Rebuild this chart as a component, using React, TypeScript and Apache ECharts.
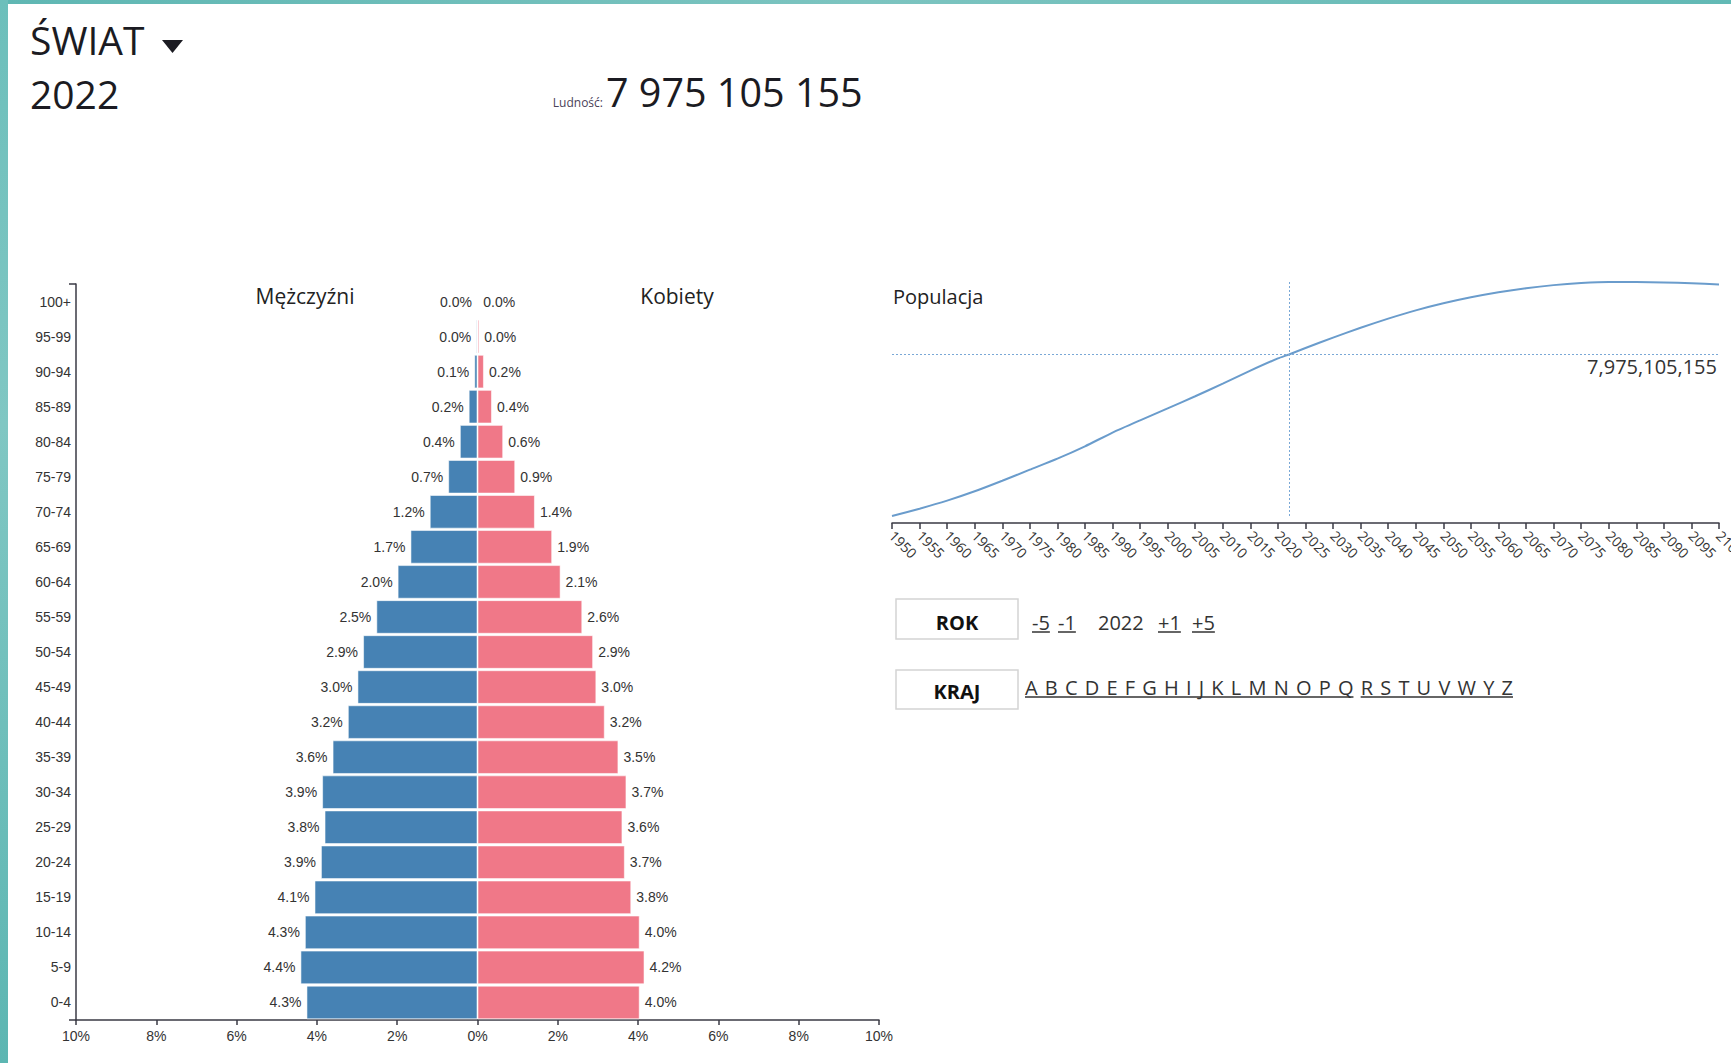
import React, { useEffect, useRef } from "react";
import * as echarts from "echarts";

// ---------- data ----------
const AGE_GROUPS = [
  "0-4", "5-9", "10-14", "15-19", "20-24", "25-29", "30-34", "35-39", "40-44", "45-49",
  "50-54", "55-59", "60-64", "65-69", "70-74", "75-79", "80-84", "85-89", "90-94", "95-99", "100+",
];
const MALE_PCT = [
  4.26, 4.41, 4.3, 4.06, 3.9, 3.81, 3.87, 3.61, 3.23, 2.99,
  2.85, 2.52, 1.99, 1.67, 1.19, 0.73, 0.44, 0.22, 0.08, 0.03, 0.005,
];
const FEMALE_PCT = [
  4.04, 4.16, 4.04, 3.83, 3.67, 3.61, 3.71, 3.51, 3.17, 2.96,
  2.88, 2.61, 2.07, 1.86, 1.43, 0.94, 0.64, 0.36, 0.16, 0.045, 0.01,
];
const PCT_TICKS_MIN = -10;
const PCT_TICKS_MAX = 10;
const PCT_TICK_STEP = 2;

const POP_YEARS = [
  1950, 1955, 1960, 1965, 1970, 1975, 1980, 1985, 1990, 1995, 2000, 2005, 2010, 2015, 2020,
  2022, 2025, 2030, 2035, 2040, 2045, 2050, 2055, 2060, 2065, 2070, 2075, 2080, 2085, 2090,
  2095, 2100,
];
// billions
const POP_VALUES = [
  2.499, 2.746, 3.019, 3.337, 3.695, 4.07, 4.444, 4.862, 5.327, 5.743, 6.149, 6.558, 6.986,
  7.427, 7.841, 7.975105155, 8.192, 8.546, 8.879, 9.188, 9.468, 9.709, 9.913, 10.085, 10.222,
  10.325, 10.394, 10.431, 10.43, 10.415, 10.387, 10.349,
];
const CURRENT_YEAR = 2022;
const CURRENT_POP = 7975105155;

const REGION_NAME = "ŚWIAT";
const LABEL_MEN = "Mężczyźni";
const LABEL_WOMEN = "Kobiety";
const LABEL_POP = "Populacja";
const LABEL_LUDNOSC = "Ludność:";
const YEAR_LINKS = ["-5", "-1", "+1", "+5"];
const LETTERS = ["A", "B", "C", "D", "E", "F", "G", "H", "I", "J", "K", "L", "M", "N", "O", "P", "Q", "R", "S", "T", "U", "V", "W", "Y", "Z"];

// ---------- helpers ----------
const FONT_UI = "Open Sans";
const measureCtx = (() => {
  const c = document.createElement("canvas");
  return c.getContext("2d") as CanvasRenderingContext2D;
})();
function textWidth(t: string, size: number, family = FONT_UI, weight = "normal") {
  measureCtx.font = `${weight} ${size}px "${family}"`;
  return measureCtx.measureText(t).width;
}
function spaced(n: number) {
  return String(n).replace(/\B(?=(\d{3})+(?!\d))/g, " ");
}
function commas(n: number) {
  return String(n).replace(/\B(?=(\d{3})+(?!\d))/g, ",");
}

export default function App() {
  const ref = useRef<HTMLDivElement>(null);

  useEffect(() => {
    if (!ref.current) return;
    const chart = echarts.init(ref.current, undefined, { renderer: "svg" });

    const dark = "#1b1b22";
    const txt = "#333";

    const graphics: any[] = [];
    // teal page frame
    graphics.push({
      type: "rect",
      shape: { x: 0, y: 0, width: 1731, height: 4 },
      style: {
        fill: new echarts.graphic.LinearGradient(0, 0, 1, 0, [
          { offset: 0, color: "#5fb7b3" },
          { offset: 0.5, color: "#7cc4c0" },
          { offset: 1, color: "#62b9b5" },
        ]),
      },
      silent: true,
    });
    graphics.push({
      type: "rect",
      shape: { x: 0, y: 0, width: 8, height: 1063 },
      style: {
        fill: new echarts.graphic.LinearGradient(0, 0, 0, 1, [
          { offset: 0, color: "#6cbfbb" },
          { offset: 0.4, color: "#80c7c3" },
          { offset: 1, color: "#5cb6b2" },
        ]),
      },
      silent: true,
    });

    // header
    graphics.push({
      type: "text", x: 30, y: 39,
      style: { text: REGION_NAME, fontSize: 39, fontFamily: FONT_UI, fill: dark, verticalAlign: "middle" },
    });
    graphics.push({
      type: "polygon",
      shape: { points: [[162, 40], [183, 40], [172.5, 53]] },
      style: { fill: dark },
    });
    graphics.push({
      type: "text", x: 30, y: 93,
      style: { text: String(CURRENT_YEAR), fontSize: 39, fontFamily: FONT_UI, fill: dark, verticalAlign: "middle" },
    });
    graphics.push({
      type: "text", x: 603, y: 102,
      style: { text: LABEL_LUDNOSC, fontSize: 12, fontFamily: FONT_UI, fill: "#4a4258", align: "right", verticalAlign: "middle" },
    });
    graphics.push({
      type: "text", x: 606, y: 92,
      style: { text: spaced(CURRENT_POP), fontSize: 39.5, fontFamily: FONT_UI, fill: dark, verticalAlign: "middle" },
    });

    // panel titles
    graphics.push({
      type: "text", x: 305, y: 296,
      style: { text: LABEL_MEN, fontSize: 21, fontFamily: FONT_UI, fill: "#222", align: "center", verticalAlign: "middle" },
    });
    graphics.push({
      type: "text", x: 677, y: 296,
      style: { text: LABEL_WOMEN, fontSize: 21, fontFamily: FONT_UI, fill: "#222", align: "center", verticalAlign: "middle" },
    });
    graphics.push({
      type: "text", x: 893, y: 296,
      style: { text: LABEL_POP, fontSize: 20, fontFamily: FONT_UI, fill: "#222", verticalAlign: "middle" },
    });

    // ROK / KRAJ boxes
    const boxX = 896, boxW = 122;
    [[599, 40, "ROK", 622], [670, 39, "KRAJ", 691]].forEach(([y, h, label, ty]: any) => {
      graphics.push({
        type: "rect",
        shape: { x: boxX, y, width: boxW, height: h },
        style: { fill: "#fff", stroke: "#d4d4d4", lineWidth: 1.5 },
      });
      graphics.push({
        type: "text", x: boxX + boxW / 2, y: ty,
        style: { text: label, fontSize: 20, fontWeight: "bold", fontFamily: FONT_UI, fill: "#111", align: "center", verticalAlign: "middle" },
      });
    });

    // year links
    const linkFont = 20;
    const linkX: Record<string, number> = { "-5": 1032, "-1": 1058, "+1": 1158, "+5": 1192 };
    YEAR_LINKS.forEach((l) => {
      const x = linkX[l];
      graphics.push({
        type: "text", x, y: 622,
        style: { text: l, fontSize: linkFont, fontFamily: FONT_UI, fill: "#333", verticalAlign: "middle" },
      });
      graphics.push({
        type: "line",
        shape: { x1: x, y1: 632, x2: x + textWidth(l, linkFont), y2: 632 },
        style: { stroke: "#333", lineWidth: 1.5 },
      });
    });
    graphics.push({
      type: "text", x: 1098, y: 622,
      style: { text: String(CURRENT_YEAR), fontSize: linkFont, fontFamily: FONT_UI, fill: "#333", verticalAlign: "middle" },
    });

    // letters
    const lettersStart = 1025, lettersEnd = 1513;
    const widths = LETTERS.map((l) => textWidth(l, linkFont));
    const totalW = widths.reduce((a, b) => a + b, 0);
    const gap = (lettersEnd - lettersStart - totalW) / (LETTERS.length - 1);
    let cx = lettersStart;
    const starts: number[] = [];
    LETTERS.forEach((l, i) => {
      starts.push(cx);
      graphics.push({
        type: "text", x: cx, y: 687,
        style: { text: l, fontSize: linkFont, fontFamily: FONT_UI, fill: "#333", verticalAlign: "middle" },
      });
      cx += widths[i] + gap;
    });
    const qi = LETTERS.indexOf("Q");
    graphics.push({
      type: "line",
      shape: { x1: lettersStart, y1: 697, x2: starts[qi] + widths[qi], y2: 697 },
      style: { stroke: "#333", lineWidth: 1.5 },
    });
    graphics.push({
      type: "line",
      shape: { x1: starts[qi + 1], y1: 697, x2: lettersEnd, y2: 697 },
      style: { stroke: "#333", lineWidth: 1.5 },
    });

    const barLabelFont = { fontSize: 14, fontFamily: "Liberation Sans", color: txt };
    const pctFmt = (p: any) => Math.abs(p.value).toFixed(1) + "%";

    const option: any = {
      animation: false,
      backgroundColor: "#fff",
      grid: [
        { left: 76, top: 284, width: 803, height: 736, outerBoundsMode: "none", containLabel: false },
        { left: 892, top: 282, width: 827, height: 234, outerBoundsMode: "none", containLabel: false },
      ],
      xAxis: [
        {
          type: "value", gridIndex: 0,
          min: PCT_TICKS_MIN, max: PCT_TICKS_MAX, interval: PCT_TICK_STEP,
          axisLine: { show: true, lineStyle: { color: "#3a3a44", width: 1.5 } },
          axisTick: { show: true, length: 5, lineStyle: { color: "#3a3a44", width: 1.5 } },
          splitLine: { show: false },
          axisLabel: {
            formatter: (v: number) => Math.abs(v) + "%",
            fontSize: 14, fontFamily: "Liberation Sans", color: txt, margin: 9,
          },
        },
        {
          type: "value", gridIndex: 1,
          min: 1950, max: 2100, interval: 5, offset: 7,
          axisLine: { show: true, lineStyle: { color: "#3a3a44", width: 1.5 } },
          axisTick: { show: true, length: 6, lineStyle: { color: "#3a3a44", width: 1.5 } },
          splitLine: { show: false },
          axisLabel: {
            rotate: -45, fontSize: 14, fontFamily: FONT_UI, color: txt, margin: 10,
            showMinLabel: true, showMaxLabel: true,
            formatter: (v: number) => String(v),
          },
        },
      ],
      yAxis: [
        {
          type: "category", gridIndex: 0, data: AGE_GROUPS,
          axisLine: { show: false }, axisTick: { show: false },
          axisLabel: { fontSize: 14, fontFamily: "Liberation Sans", color: txt, margin: 5 },
        },
        {
          type: "value", gridIndex: 0, min: 0, max: 1, interval: 1, position: "left",
          axisLine: { show: true, lineStyle: { color: "#3a3a44", width: 1.5 } },
          axisTick: { show: true, length: 7, lineStyle: { color: "#3a3a44", width: 1.5 } },
          axisLabel: { show: false }, splitLine: { show: false },
        },
        {
          type: "value", gridIndex: 1, min: "dataMin", max: "dataMax", show: false,
          splitLine: { show: false },
        },
      ],
      series: [
        {
          name: LABEL_MEN, type: "bar", xAxisIndex: 0, yAxisIndex: 0,
          data: MALE_PCT.map((v) => -v),
          barGap: "-100%", barCategoryGap: "4%",
          itemStyle: { color: "#4682b4", borderColor: "rgba(255,255,255,0.55)", borderWidth: 1 },
          label: { show: true, position: "left", distance: 5, formatter: pctFmt, ...barLabelFont },
        },
        {
          name: LABEL_WOMEN, type: "bar", xAxisIndex: 0, yAxisIndex: 0,
          data: FEMALE_PCT,
          barGap: "-100%", barCategoryGap: "4%",
          itemStyle: { color: "#f07888", borderColor: "rgba(255,255,255,0.55)", borderWidth: 1 },
          label: { show: true, position: "right", distance: 5, formatter: pctFmt, ...barLabelFont },
        },
        {
          name: LABEL_POP, type: "line", xAxisIndex: 1, yAxisIndex: 2,
          data: POP_YEARS.map((y, i) => [y, POP_VALUES[i]]),
          showSymbol: false, smooth: 0.2,
          lineStyle: { color: "#6a9ccc", width: 2 },
          markLine: {
            silent: true, symbol: "none", animation: false,
            lineStyle: { color: "#7aa8d6", type: [2, 2], width: 1 },
            data: [
              {
                yAxis: CURRENT_POP / 1e9,
                label: {
                  show: true, position: "insideEndBottom", distance: 2,
                  formatter: () => commas(CURRENT_POP),
                  fontSize: 20, fontFamily: FONT_UI, color: txt,
                },
              },
              { xAxis: CURRENT_YEAR, label: { show: false } },
            ],
          },
        },
      ],
      graphic: graphics,
    };

    chart.setOption(option);
    return () => chart.dispose();
  }, []);

  return (
    <div
      ref={ref}
      style={{ position: "fixed", left: 0, top: 0, width: 1731, height: 1063, background: "#fff" }}
    />
  );
}
